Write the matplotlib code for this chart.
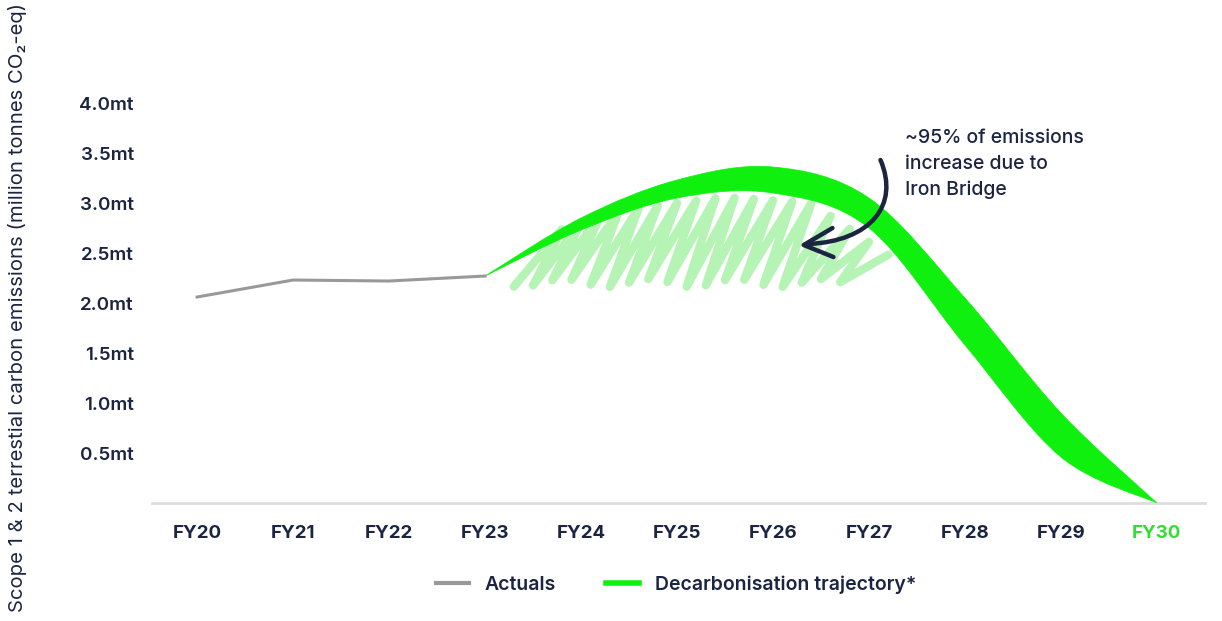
import numpy as np
import matplotlib.pyplot as plt
from matplotlib.path import Path
from matplotlib.patches import PathPatch
from matplotlib.lines import Line2D

plt.rcParams['font.family'] = ['Inter', 'DejaVu Sans']

# ---- data ----
years = ["FY20", "FY21", "FY22", "FY23", "FY24", "FY25",
         "FY26", "FY27", "FY28", "FY29", "FY30"]
actuals = [2.06, 2.23, 2.22, 2.27]

# decarbonisation trajectory band (FY23 -> FY30)
traj_upper = [2.27, 2.85, 3.23, 3.36, 3.05, 2.05, 0.90, 0.0]
traj_lower = [2.27, 2.73, 3.05, 3.10, 2.75, 1.58, 0.46, 0.0]

# envelope of the hand-drawn scribble under the hump
scribble_x = [3.30, 3.75, 4.35, 5.50, 6.40, 7.25]
scribble_top = [2.35, 2.72, 2.92, 3.06, 3.00, 2.45]
scribble_bottom = 2.20

yticks = [0.5, 1.0, 1.5, 2.0, 2.5, 3.0, 3.5, 4.0]

NAVY = "#1b2541"
GREEN = "#0ff00f"
LIGHT_GREEN = "#b6f4b6"
GREY = "#999999"


def smooth_segments(xs, ys):
    """Catmull-Rom control points -> cubic bezier vertices through every point."""
    pts = np.column_stack([xs, ys])
    ext = np.vstack([pts[0], pts, pts[-1]])
    verts = []
    for i in range(len(pts) - 1):
        p0, p1, p2, p3 = ext[i], ext[i + 1], ext[i + 2], ext[i + 3]
        c1 = p1 + (p2 - p0) / 6.0
        c2 = p2 - (p3 - p1) / 6.0
        verts += [c1, c2, p2]
    return pts[0], verts


fig = plt.figure(figsize=(12.22, 6.21), dpi=100)
ax = fig.add_axes([0.1244, 0.19, 0.8616, 0.6763])

x_all = np.arange(len(years))
x_traj = x_all[3:]

# scribble (zigzag fill under the hump)
xs_s, ys_s = [], []
period = 0.2
slant = 0.5
pos = scribble_x[0]
while pos + slant < scribble_x[-1] + 0.1:
    top = np.interp(pos + slant, scribble_x, scribble_top)
    xs_s += [pos, pos + slant]
    ys_s += [scribble_bottom + 0.04 * np.sin(pos * 7), top]
    pos += period
ax.plot(xs_s, ys_s, color=LIGHT_GREEN, lw=6, solid_joinstyle="round",
        solid_capstyle="round", zorder=1)

# trajectory band
start, up = smooth_segments(x_traj, traj_upper)
_, low = smooth_segments(x_traj[::-1], traj_lower[::-1])
verts = [start] + up + [np.array([x_traj[-1], traj_lower[-1]])] + low + [start]
codes = ([Path.MOVETO] + [Path.CURVE4] * len(up) + [Path.LINETO]
         + [Path.CURVE4] * len(low) + [Path.CLOSEPOLY])
band = PathPatch(Path(verts, codes), facecolor=GREEN, edgecolor=GREEN,
                 lw=0.5, zorder=3)
ax.add_patch(band)

# actuals
ax.plot(x_all[:4], actuals, color=GREY, lw=2.2, zorder=4)

# curved annotation arrow
arrow_path = Path([(7.12, 3.43), (7.32, 2.98), (7.02, 2.62), (6.37, 2.59)],
                  [Path.MOVETO, Path.CURVE4, Path.CURVE4, Path.CURVE4])
ax.add_patch(PathPatch(arrow_path, facecolor="none", edgecolor=NAVY, lw=3.2,
                       capstyle="round", zorder=5))
ax.plot([6.62, 6.32, 6.63], [2.75, 2.58, 2.46], color=NAVY, lw=3.2,
        solid_capstyle="round", solid_joinstyle="round", zorder=5)
ax.text(7.38, 3.74, "~95% of emissions\nincrease due to\nIron Bridge",
        ha="left", va="top", fontsize=14, fontweight="medium", color=NAVY,
        linespacing=1.55)

# axes styling
ax.set_xlim(-0.47, 10.5)
ax.set_ylim(0, 4.2)
ax.set_xticks(x_all)
ax.set_xticklabels(years, fontsize=13.5, fontweight="bold", color=NAVY)
ax.get_xticklabels()[-1].set_color("#33dd33")
ax.set_yticks(yticks)
ax.set_yticklabels([f"{v:.1f}mt" for v in yticks], fontsize=13.5,
                   fontweight="semibold", color=NAVY)
ax.tick_params(axis="both", length=0)
ax.tick_params(axis="x", pad=16)
ax.tick_params(axis="y", pad=13)
for side in ["top", "right", "left"]:
    ax.spines[side].set_visible(False)
ax.spines["bottom"].set_color("#dddddd")
ax.spines["bottom"].set_linewidth(2)

fig.text(0.014, 0.505,
         "Scope 1 & 2 terrestial carbon emissions (million tonnes CO\u2082-eq)",
         rotation=90, ha="center", va="center", fontsize=14.6, color=NAVY)

handles = [Line2D([], [], color=GREY, lw=3),
           Line2D([], [], color=GREEN, lw=4)]
fig.legend(handles, ["Actuals", "Decarbonisation trajectory*"],
           loc="center", bbox_to_anchor=(0.553, 0.058), ncol=2, frameon=False,
           handlelength=1.7, columnspacing=2.6, handletextpad=0.8,
           prop={"size": 14, "weight": "semibold"}, labelcolor=NAVY)

fig.savefig("out.png", dpi=100)
